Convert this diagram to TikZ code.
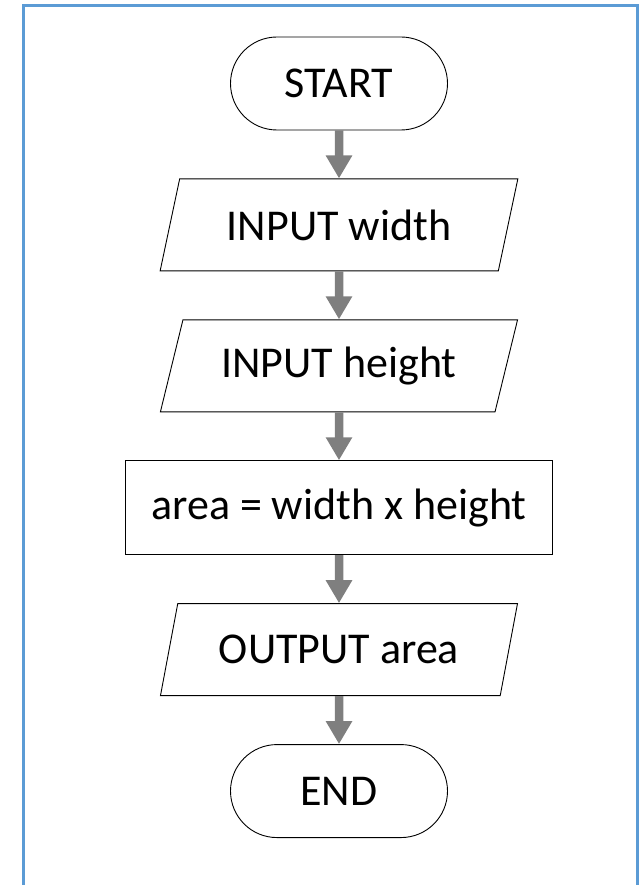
\documentclass[tikz,border=0pt]{standalone}
\usepackage{fontspec}
\setmainfont{Carlito}
\usetikzlibrary{arrows.meta,positioning,shapes.geometric,shapes.misc}

\definecolor{frameblue}{RGB}{91,155,213}
\definecolor{arrowgray}{RGB}{127,127,127}

\begin{document}
\begin{tikzpicture}[x=1pt,y=-1pt,
    >={Triangle[length=23pt,width=25pt]},
    node distance=48pt,
    box/.style={draw, line width=0.9pt, fill=white, inner sep=0pt,
        font=\fontsize{44}{52}\selectfont},
    terminal/.style={box, rounded rectangle, minimum width=217pt, minimum height=93pt},
    io/.style={box, trapezium, trapezium left angle=66, trapezium right angle=114,
        trapezium stretches=true, minimum width=358pt, minimum height=92pt},
    process/.style={box, rectangle, minimum width=427pt, minimum height=94pt},
    flow/.style={->, arrowgray, line width=8.5pt}]
    \useasboundingbox (0,0) rectangle (642,885);
    % frame, open at the bottom
    \draw[frameblue, line width=3pt] (23.5,890) -- (23.5,5.5) -- (637.5,5.5) -- (637.5,890);

    % steps
    \node[terminal] (start) at (339,83.5) {START};
    \node[io, below=of start] (inwidth) {INPUT width};
    \node[io, below=of inwidth] (inheight) {INPUT height};
    \node[process, below=of inheight] (calc) {area = width x height};
    \node[io, below=of calc] (outarea) {OUTPUT area};
    \node[terminal, below=of outarea] (stop) {END};

    % arrows
    \draw[flow] (start) -- (inwidth);
    \draw[flow] (inwidth) -- (inheight);
    \draw[flow] (inheight) -- (calc);
    \draw[flow] (calc) -- (outarea);
    \draw[flow] (outarea) -- (stop);
\end{tikzpicture}
\end{document}
